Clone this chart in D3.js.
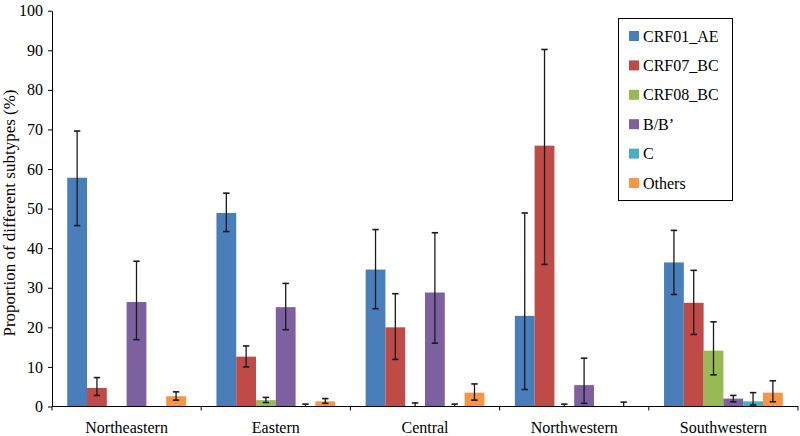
<!DOCTYPE html>
<html><head><meta charset="utf-8">
<script src="https://cdn.jsdelivr.net/npm/d3@7"></script>
<style>body{margin:0;background:#fff}svg{display:block}svg text{font-family:'Liberation Serif','Times New Roman',Times,'DejaVu Serif',serif !important}</style>
</head><body>
<script>
const regions = ["Northeastern","Eastern","Central","Northwestern","Southwestern"];
const subtypes = ["CRF01_AE","CRF07_BC","CRF08_BC","B/B\u2019","C","Others"];
const colors = ["#4a7ebb","#be4b48","#98b954","#7d60a0","#4bacc6","#f79646"];
const yTicks = [0,10,20,30,40,50,60,70,80,90,100];
// values per subtype, ordered by region
const CRF01_AE = [57.8, 48.9, 34.6, 22.9, 36.4];
const CRF07_BC = [4.7, 12.6, 20.0, 65.9, 26.2];
const CRF08_BC = [0, 1.6, 0, 0, 14.1];
const BB = [26.4, 25.1, 28.8, 5.4, 2.0];
const C = [0, 0, 0, 0, 1.3];
const Others = [2.6, 1.3, 3.5, 0, 3.5];
// error bar lower / upper bounds (null = none)
const CRF01_AE_lo = [45.7, 44.2, 24.7, 4.3, 28.3];
const CRF01_AE_hi = [69.6, 53.9, 44.7, 48.9, 44.5];
const CRF07_BC_lo = [2.8, 10.0, 11.9, 35.9, 18.2];
const CRF07_BC_hi = [7.3, 15.3, 28.5, 90.2, 34.4];
const CRF08_BC_lo = [null, 1.0, 0, 0, 8.0];
const CRF08_BC_hi = [null, 2.3, 0.9, 0.6, 21.4];
const BB_lo = [16.9, 19.4, 16.0, 0.8, 1.2];
const BB_hi = [36.7, 31.1, 43.9, 12.2, 2.8];
const C_lo = [null, 0, 0, null, 0.4];
const C_hi = [null, 0.6, 0.6, null, 3.5];
const Others_lo = [1.6, 0.8, 1.6, 0, 1.2];
const Others_hi = [3.7, 2.0, 5.7, 1.1, 6.5];

const vals = [CRF01_AE, CRF07_BC, CRF08_BC, BB, C, Others];
const los = [CRF01_AE_lo, CRF07_BC_lo, CRF08_BC_lo, BB_lo, C_lo, Others_lo];
const his = [CRF01_AE_hi, CRF07_BC_hi, CRF08_BC_hi, BB_hi, C_hi, Others_hi];

const W = 800, H = 436;
const svg = d3.select("body").append("svg").attr("width", W).attr("height", H);
const x0 = d3.scaleBand().domain(regions).range([52, 798]);
const x1 = d3.scaleBand().domain(subtypes).range([0, x0.bandwidth()]).paddingInner(0).paddingOuter(0.77);
const y = d3.scaleLinear().domain([0, 100]).range([406.5, 10.7]);

const data = [];
regions.forEach((r, ri) => subtypes.forEach((s, si) => {
  data.push({r, s, si, v: vals[si][ri], lo: los[si][ri], hi: his[si][ri]});
}));

// bars
svg.append("g").selectAll("rect").data(data.filter(d => d.v > 0)).join("rect")
  .attr("x", d => x0(d.r) + x1(d.s))
  .attr("width", x1.bandwidth())
  .attr("y", d => y(d.v))
  .attr("height", d => y(0) - y(d.v))
  .attr("fill", d => colors[d.si]);

// error bars
const eb = svg.append("g").attr("stroke", "#1a1a1a").attr("stroke-width", 1.3);
data.filter(d => d.hi != null).forEach(d => {
  const cx = x0(d.r) + x1(d.s) + x1.bandwidth() / 2;
  eb.append("line").attr("x1", cx).attr("x2", cx).attr("y1", y(d.hi)).attr("y2", y(d.lo));
  eb.append("line").attr("x1", cx - 3.2).attr("x2", cx + 3.2).attr("y1", y(d.hi)).attr("y2", y(d.hi)).attr("stroke-width", 1.6);
  if (d.lo > 0) eb.append("line").attr("x1", cx - 3.2).attr("x2", cx + 3.2).attr("y1", y(d.lo)).attr("y2", y(d.lo)).attr("stroke-width", 1.6);
});

// y axis
const yAxis = svg.append("g").attr("transform", "translate(52,0)")
  .call(d3.axisLeft(y).tickValues(yTicks).tickSize(4).tickPadding(5).tickSizeOuter(0));
yAxis.attr("font-family", null).attr("font-size", null);
yAxis.select(".domain").attr("stroke", "#000");
yAxis.selectAll(".tick line").attr("stroke", "#000");
yAxis.selectAll("text").attr("font-size", 16).attr("fill", "#000");

// x axis
const xg = svg.append("g").attr("transform", "translate(0,406.5)");
xg.append("line").attr("x1", 52).attr("x2", 798).attr("stroke", "#000");
const bounds = regions.map(r => x0(r)).concat([x0.range()[1]]);
xg.selectAll(".xt").data(bounds).join("line").attr("class", "xt")
  .attr("x1", d => d).attr("x2", d => d).attr("y1", 0).attr("y2", 4).attr("stroke", "#000");
xg.selectAll(".xl").data(regions).join("text").attr("class", "xl")
  .attr("x", d => x0(d) + x0.bandwidth() / 2).attr("y", 26)
  .attr("text-anchor", "middle").attr("font-size", 16).text(d => d);

// y title
svg.append("text").attr("transform", "translate(15,213) rotate(-90)")
  .attr("text-anchor", "middle").attr("font-size", 17)
  .text("Proportion of different subtypes (%)");

// legend
const lg = svg.append("g");
lg.append("rect").attr("x", 618.5).attr("y", 18.5).attr("width", 114).attr("height", 182)
  .attr("fill", "#fff").attr("stroke", "#000");
subtypes.forEach((s, i) => {
  const cy = 36 + i * 29.4;
  lg.append("rect").attr("x", 629).attr("y", cy - 5).attr("width", 10).attr("height", 10).attr("fill", colors[i]);
  lg.append("text").attr("x", 643).attr("y", cy).attr("dy", "0.35em").attr("font-size", 16).text(s);
});
</script>
</body></html>
